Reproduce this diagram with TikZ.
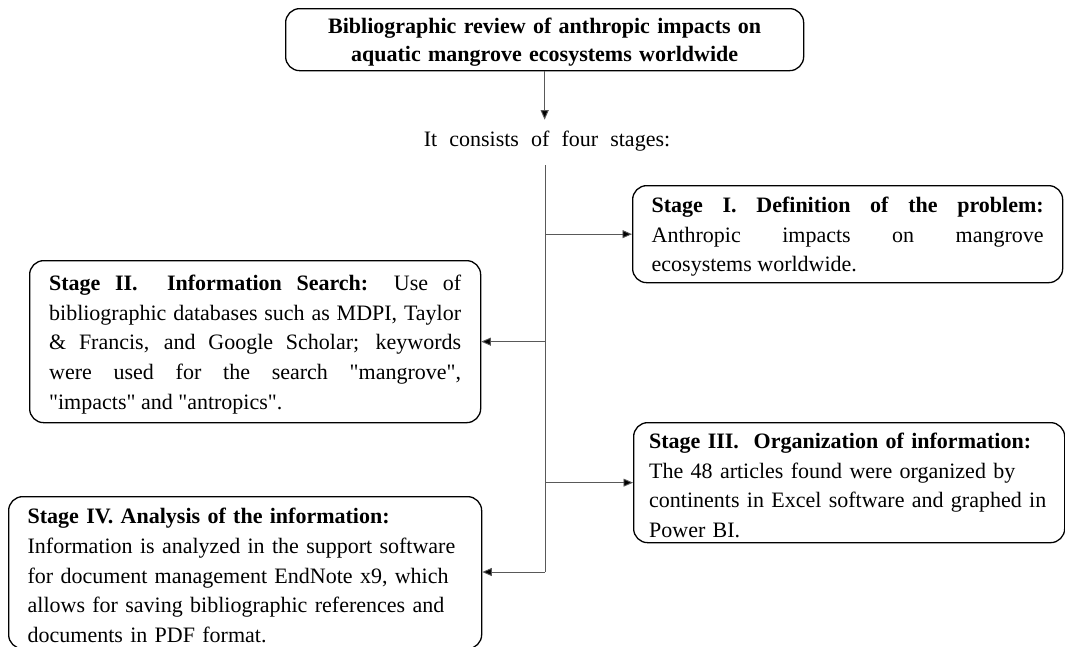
\documentclass[tikz,border=0pt]{standalone}
\usepackage{fontspec}
\setmainfont{Liberation Serif}[Ligatures=TeXOff]
\usetikzlibrary{arrows.meta}
\newcommand\fstrut{\rule{0pt}{21pt}}
\tikzset{
  box/.style={draw=black, line width=1.3pt, rounded corners=14pt, inner xsep=0pt, inner ysep=0pt, anchor=north west},
  arr/.style={draw=black!65, line width=0.9pt, -{Triangle[length=9.5pt,width=8pt,fill=black]}},
  plain/.style={draw=black!65, line width=0.9pt},
  txt/.style={font=\fontsize{22}{29.6}\selectfont}
}
\begin{document}
\begin{tikzpicture}[x=1pt,y=-1pt]
\useasboundingbox (0,0) rectangle (1065,646);
\node[box, minimum width=518pt, minimum height=62pt, text width=500pt, align=center,
  font=\fontsize{22}{27.5}\selectfont\bfseries] (top) at (285,8)
  {\fstrut Bibliographic review of anthropic impacts on\\aquatic mangrove ecosystems worldwide};
\node[txt, inner xsep=0pt, inner ysep=11pt] (mid) at (547,141) {\spaceskip=0.55em It consists of four stages:};
\draw[arr] (top.south) -- (mid.north -| top.south);
\coordinate (vtop) at (545,165);
\coordinate (vbot) at (545,572);
\draw[plain] (vtop) -- (vbot);

\node[box, txt, minimum width=430pt, minimum height=97pt, text width=392pt, align=justify] (s1) at (632,185)
  {\fstrut\textbf{Stage I. Definition of the problem:}\linebreak Anthropic impacts on mangrove\linebreak ecosystems worldwide.};
\node[box, txt, minimum width=451pt, minimum height=162pt, text width=412pt, align=justify] (s2) at (29,260)
  {\fstrut\textbf{Stage II.\ \ Information Search:} Use of\linebreak bibliographic databases such as MDPI, Taylor\linebreak \& Francis, and Google Scholar; keywords\linebreak were used for the search "mangrove",\linebreak "impacts" and "antropics".};
\node[box, txt, minimum width=431pt, minimum height=120pt, text width=400pt, align=left] (s3) at (633,422)
  {\fstrut\textbf{Stage III.\ \ Organization of information:}\\The 48 articles found were organized by\\continents in Excel software and graphed in\\Power BI.};
\node[box, txt, minimum width=473pt, minimum height=152pt, text width=435pt, align=left] (s4) at (8,496)
  {\fstrut\textbf{Stage IV. Analysis of the information:}\\Information is analyzed in the support software\\for document management EndNote x9, which\\allows for saving bibliographic references and\\documents in PDF format.};

\draw[arr] (vtop |- s1.west) -- (s1.west);
\draw[arr] (vtop |- s2.east) -- (s2.east);
\draw[arr] (vtop |- s3.west) -- (s3.west);
\draw[arr] (vbot) -- (vbot -| s4.east);
\end{tikzpicture}
\end{document}
